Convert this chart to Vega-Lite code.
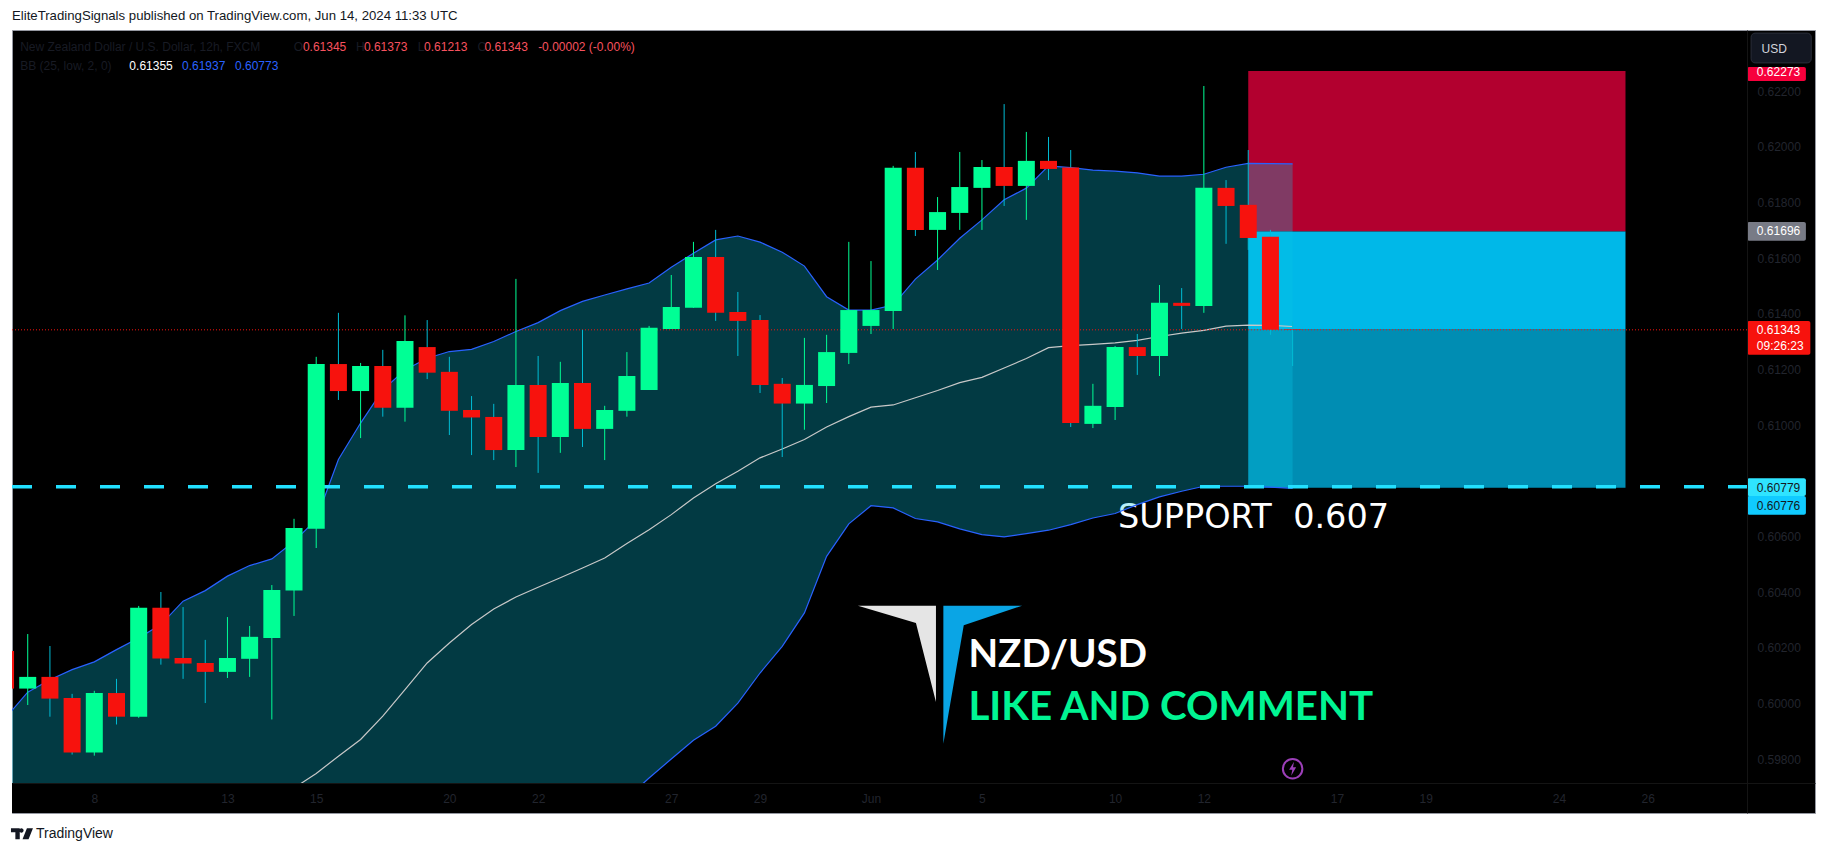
{"$schema":"https://vega.github.io/schema/vega-lite/v6.json","width":1803,"height":783,"autosize":{"type":"none"},"padding":{"left":12,"top":30,"right":11,"bottom":40},"background":"#ffffff","view":{"fill":"#000000","stroke":"#9598a1"},
"title":{"text":"EliteTradingSignals published on TradingView.com, Jun 14, 2024 11:33 UTC","anchor":"start","frame":"group","offset":7,"fontSize":13.2,"fontWeight":"normal","font":"Liberation Sans","color":"#131722"},
"datasets":{
"candles":[
{"i":0,"o":0.60189,"h":0.60195,"l":0.6004,"c":0.60054,"upper":0.59949,"mid":null,"lower":0.5866},
{"i":1,"o":0.60054,"h":0.6025,"l":0.59995,"c":0.60096,"upper":0.60041,"mid":null,"lower":0.5872},
{"i":2,"o":0.60096,"h":0.60207,"l":0.59953,"c":0.60018,"upper":0.60086,"mid":null,"lower":0.5878},
{"i":3,"o":0.6002,"h":0.60035,"l":0.59817,"c":0.59824,"upper":0.60122,"mid":null,"lower":0.5884},
{"i":4,"o":0.59824,"h":0.60046,"l":0.59813,"c":0.60038,"upper":0.6015,"mid":null,"lower":0.589},
{"i":5,"o":0.60038,"h":0.60089,"l":0.59925,"c":0.59953,"upper":0.60194,"mid":null,"lower":0.5895},
{"i":6,"o":0.59953,"h":0.60351,"l":0.59949,"c":0.60344,"upper":0.60236,"mid":null,"lower":0.59},
{"i":7,"o":0.60344,"h":0.60401,"l":0.6014,"c":0.60162,"upper":0.60284,"mid":null,"lower":0.5905},
{"i":8,"o":0.60164,"h":0.60347,"l":0.60089,"c":0.60144,"upper":0.60368,"mid":null,"lower":0.591},
{"i":9,"o":0.60146,"h":0.60229,"l":0.60002,"c":0.60114,"upper":0.60406,"mid":null,"lower":0.5915},
{"i":10,"o":0.60114,"h":0.60311,"l":0.60092,"c":0.60164,"upper":0.60458,"mid":null,"lower":0.592},
{"i":11,"o":0.60161,"h":0.60279,"l":0.60096,"c":0.6024,"upper":0.60496,"mid":null,"lower":0.5925},
{"i":12,"o":0.60236,"h":0.60426,"l":0.59943,"c":0.60408,"upper":0.6052,"mid":0.59655,"lower":0.593},
{"i":13,"o":0.60406,"h":0.60664,"l":0.60315,"c":0.60631,"upper":0.60583,"mid":0.59697,"lower":0.5935},
{"i":14,"o":0.60628,"h":0.61246,"l":0.60559,"c":0.6122,"upper":0.60661,"mid":0.59749,"lower":0.594},
{"i":15,"o":0.6122,"h":0.61404,"l":0.61091,"c":0.61123,"upper":0.60877,"mid":0.59811,"lower":0.5944},
{"i":16,"o":0.61123,"h":0.61224,"l":0.60954,"c":0.61213,"upper":0.61008,"mid":0.59871,"lower":0.5947},
{"i":17,"o":0.61213,"h":0.61271,"l":0.61031,"c":0.61063,"upper":0.61127,"mid":0.59955,"lower":0.595},
{"i":18,"o":0.61063,"h":0.61395,"l":0.61013,"c":0.61303,"upper":0.61199,"mid":0.6005,"lower":0.5952},
{"i":19,"o":0.61281,"h":0.61378,"l":0.61166,"c":0.61189,"upper":0.61241,"mid":0.60146,"lower":0.5954},
{"i":20,"o":0.61192,"h":0.61246,"l":0.60965,"c":0.61052,"upper":0.61265,"mid":0.60218,"lower":0.5955},
{"i":21,"o":0.61055,"h":0.61105,"l":0.60893,"c":0.61028,"upper":0.61273,"mid":0.60284,"lower":0.5956},
{"i":22,"o":0.6103,"h":0.61077,"l":0.60875,"c":0.60911,"upper":0.61301,"mid":0.6034,"lower":0.5957},
{"i":23,"o":0.60911,"h":0.61526,"l":0.6085,"c":0.61145,"upper":0.61337,"mid":0.60383,"lower":0.59575},
{"i":24,"o":0.61145,"h":0.61249,"l":0.60829,"c":0.60958,"upper":0.61369,"mid":0.60418,"lower":0.5958},
{"i":25,"o":0.60958,"h":0.61228,"l":0.60901,"c":0.61152,"upper":0.61412,"mid":0.60452,"lower":0.59585},
{"i":26,"o":0.61152,"h":0.61343,"l":0.60922,"c":0.60987,"upper":0.61445,"mid":0.60487,"lower":0.5959},
{"i":27,"o":0.60987,"h":0.6107,"l":0.60875,"c":0.61055,"upper":0.61468,"mid":0.60523,"lower":0.59615},
{"i":28,"o":0.61052,"h":0.61263,"l":0.61031,"c":0.61177,"upper":0.6149,"mid":0.60575,"lower":0.59661},
{"i":29,"o":0.61127,"h":0.61357,"l":0.61127,"c":0.6135,"upper":0.61511,"mid":0.60625,"lower":0.59733},
{"i":30,"o":0.61346,"h":0.6154,"l":0.61346,"c":0.61425,"upper":0.61568,"mid":0.60679,"lower":0.59801},
{"i":31,"o":0.61422,"h":0.61659,"l":0.61422,"c":0.61605,"upper":0.61618,"mid":0.60739,"lower":0.59868},
{"i":32,"o":0.61605,"h":0.61702,"l":0.61375,"c":0.61404,"upper":0.61666,"mid":0.6079,"lower":0.59919},
{"i":33,"o":0.61407,"h":0.61479,"l":0.61249,"c":0.61375,"upper":0.6168,"mid":0.60835,"lower":0.60002},
{"i":34,"o":0.61378,"h":0.61396,"l":0.61116,"c":0.61145,"upper":0.61658,"mid":0.60883,"lower":0.6011},
{"i":35,"o":0.61149,"h":0.6117,"l":0.60886,"c":0.61078,"upper":0.61622,"mid":0.60915,"lower":0.60206},
{"i":36,"o":0.61078,"h":0.61314,"l":0.60984,"c":0.61145,"upper":0.61572,"mid":0.60949,"lower":0.60326},
{"i":37,"o":0.61141,"h":0.61325,"l":0.6108,"c":0.61263,"upper":0.61462,"mid":0.60994,"lower":0.60529},
{"i":38,"o":0.6126,"h":0.61659,"l":0.6122,"c":0.61414,"upper":0.61414,"mid":0.61031,"lower":0.60646},
{"i":39,"o":0.61357,"h":0.6159,"l":0.61328,"c":0.61414,"upper":0.61414,"mid":0.61065,"lower":0.60711},
{"i":40,"o":0.61411,"h":0.61932,"l":0.61346,"c":0.61925,"upper":0.61432,"mid":0.61073,"lower":0.60703},
{"i":41,"o":0.61925,"h":0.61982,"l":0.6168,"c":0.61702,"upper":0.61525,"mid":0.61099,"lower":0.60665},
{"i":42,"o":0.61702,"h":0.6182,"l":0.61558,"c":0.61766,"upper":0.61594,"mid":0.61125,"lower":0.60653},
{"i":43,"o":0.61763,"h":0.61982,"l":0.61702,"c":0.61856,"upper":0.61672,"mid":0.61153,"lower":0.60628},
{"i":44,"o":0.61853,"h":0.61953,"l":0.61702,"c":0.61928,"upper":0.61738,"mid":0.61172,"lower":0.60607},
{"i":45,"o":0.61928,"h":0.62154,"l":0.61788,"c":0.6186,"upper":0.6181,"mid":0.61206,"lower":0.60599},
{"i":46,"o":0.6186,"h":0.62054,"l":0.61738,"c":0.6195,"upper":0.61852,"mid":0.6124,"lower":0.60611},
{"i":47,"o":0.6195,"h":0.62036,"l":0.61881,"c":0.61921,"upper":0.61932,"mid":0.61279,"lower":0.60623},
{"i":48,"o":0.61926,"h":0.61989,"l":0.60994,"c":0.61008,"upper":0.61926,"mid":0.61286,"lower":0.60643},
{"i":49,"o":0.61005,"h":0.61149,"l":0.6099,"c":0.6107,"upper":0.61917,"mid":0.61291,"lower":0.60667},
{"i":50,"o":0.61066,"h":0.61285,"l":0.61019,"c":0.61281,"upper":0.61913,"mid":0.61296,"lower":0.60683},
{"i":51,"o":0.61281,"h":0.61328,"l":0.61181,"c":0.61249,"upper":0.61907,"mid":0.61305,"lower":0.60715},
{"i":52,"o":0.61249,"h":0.61504,"l":0.61177,"c":0.6144,"upper":0.61895,"mid":0.61319,"lower":0.60743},
{"i":53,"o":0.6144,"h":0.61493,"l":0.61346,"c":0.61429,"upper":0.61895,"mid":0.61331,"lower":0.60763},
{"i":54,"o":0.61429,"h":0.62219,"l":0.61404,"c":0.61853,"upper":0.61902,"mid":0.61341,"lower":0.60781},
{"i":55,"o":0.61853,"h":0.61881,"l":0.61652,"c":0.61788,"upper":0.61927,"mid":0.61356,"lower":0.60781},
{"i":56,"o":0.61792,"h":0.61989,"l":0.6163,"c":0.61673,"upper":0.61941,"mid":0.6136,"lower":0.60781},
{"i":57,"o":0.61677,"h":0.61702,"l":0.61325,"c":0.61343,"upper":0.6194,"mid":0.61359,"lower":0.60778},
{"i":58,"o":0.61345,"h":0.61373,"l":0.61213,"c":0.61343,"upper":0.61939,"mid":0.61355,"lower":0.60773}
],
"zones":[
{"zone":"stop","start":56,"end":73,"top":0.62273,"bottom":0.61696},
{"zone":"open profit","start":56,"end":73,"top":0.61696,"bottom":0.61343},
{"zone":"remaining target","start":56,"end":73,"top":0.61343,"bottom":0.60776}
],
"tags":[
{"tag":"stop","start":78.48,"end":81.13,"top":0.62287,"bottom":0.62237},
{"tag":"entry","start":78.48,"end":81.13,"top":0.6173,"bottom":0.61663},
{"tag":"last","start":78.48,"end":81.33,"top":0.61375,"bottom":0.61253},
{"tag":"support","start":78.48,"end":81.13,"top":0.6081,"bottom":0.60746},
{"tag":"target","start":78.48,"end":81.13,"top":0.60746,"bottom":0.60679}
],
"notes":[
{"t":"New Zealand Dollar / U.S. Dollar, 12h, FXCM","x":0.66,"y":0.6236,"k":"muted"},
{"t":"O","x":12.99,"y":0.6236,"k":"muted"},
{"t":"0.61345","x":13.4,"y":0.6236,"k":"down"},
{"t":"H","x":15.79,"y":0.6236,"k":"muted"},
{"t":"0.61373","x":16.15,"y":0.6236,"k":"down"},
{"t":"L","x":18.57,"y":0.6236,"k":"muted"},
{"t":"0.61213","x":18.86,"y":0.6236,"k":"down"},
{"t":"C","x":21.27,"y":0.6236,"k":"muted"},
{"t":"0.61343","x":21.58,"y":0.6236,"k":"down"},
{"t":"-0.00002 (-0.00%)","x":24.0,"y":0.6236,"k":"down"},
{"t":"BB (25, low, 2, 0)","x":0.66,"y":0.62292,"k":"muted"},
{"t":"0.61355","x":5.58,"y":0.62292,"k":"white"},
{"t":"0.61937","x":7.95,"y":0.62292,"k":"band"},
{"t":"0.60773","x":10.34,"y":0.62292,"k":"band"},
{"t":"0.62273","x":78.92,"y":0.6227,"k":"white"},
{"t":"0.61696","x":78.92,"y":0.61698,"k":"white"},
{"t":"0.61343","x":78.92,"y":0.61341,"k":"white"},
{"t":"09:26:23","x":78.92,"y":0.61286,"k":"white"},
{"t":"0.60779","x":78.92,"y":0.60776,"k":"ink"},
{"t":"0.60776","x":78.92,"y":0.60711,"k":"ink"}
]},
"layer":[
{"data":{"name":"zones"},"mark":{"type":"rect","clip":true},"encoding":{
"x":{"field":"start","type":"quantitative","scale":{"domain":[0.291,81.54],"nice":false,"zero":false,"padding":0},"axis":{"title":null,"orient":"bottom","offset":-30,"zindex":1,"grid":false,"ticks":false,"domain":true,"domainColor":"#141414","labelColor":"#22252e","labelFontSize":12,"labelFont":"Liberation Sans","labelPadding":10,"labelOverlap":false,"labelFlush":false,"values":[4,10,14,20,24,30,34,39,44,50,54,60,64,70,74],"labelExpr":"{'4':'8','10':'13','14':'15','20':'20','24':'22','30':'27','34':'29','39':'Jun','44':'5','50':'10','54':'12','60':'17','64':'19','70':'24','74':'26'}[''+datum.value]"}},
"x2":{"field":"end"},
"y":{"field":"top","type":"quantitative","scale":{"domain":[0.59607,0.624202],"nice":false,"zero":false},"axis":{"title":null,"orient":"right","offset":-68,"zindex":1,"grid":false,"ticks":false,"domain":true,"domainColor":"#141414","labelColor":"#22252e","labelFontSize":12,"labelFont":"Liberation Sans","labelPadding":10,"labelOverlap":false,"labelFlush":false,"format":".5f","values":[0.598,0.6,0.602,0.604,0.606,0.61,0.612,0.614,0.616,0.618,0.62,0.622]}},
"y2":{"field":"bottom"},
"color":{"field":"zone","type":"nominal","legend":null,"scale":{"domain":["stop","open profit","remaining target"],"range":["#b2002f","#00b8e8","#008db3"]}}}},
{"data":{"values":[{"t":"SUPPORT\u00a0\u00a00.607","x":50.13,"y":0.60631}]},"mark":{"type":"text","align":"left","baseline":"alphabetic","font":"DejaVu Sans","fontSize":33.5,"color":"#ffffff"},"encoding":{"x":{"field":"x","type":"quantitative"},"y":{"field":"y","type":"quantitative"},"text":{"field":"t"}}},
{"data":{"name":"candles"},"mark":{"type":"area","clip":true,"color":"#07c8e7","opacity":0.29},"encoding":{"x":{"field":"i","type":"quantitative"},"y":{"field":"upper","type":"quantitative"},"y2":{"field":"lower"}}},
{"data":{"name":"candles"},"mark":{"type":"line","clip":true,"color":"#2962ff","strokeWidth":1.2},"encoding":{"x":{"field":"i","type":"quantitative"},"y":{"field":"upper","type":"quantitative"}}},
{"data":{"name":"candles"},"mark":{"type":"line","clip":true,"color":"#2962ff","strokeWidth":1.2},"encoding":{"x":{"field":"i","type":"quantitative"},"y":{"field":"lower","type":"quantitative"}}},
{"data":{"name":"candles"},"mark":{"type":"line","clip":true,"color":"#c8c8c8","strokeWidth":1.2},"encoding":{"x":{"field":"i","type":"quantitative"},"y":{"field":"mid","type":"quantitative"}}},
{"data":{"values":[{"a":0.291,"b":81.54,"top":0.597148,"bottom":0.59607}]},"mark":{"type":"rect","color":"#000000","clip":true},"encoding":{"x":{"field":"a","type":"quantitative"},"x2":{"field":"b"},"y":{"field":"top","type":"quantitative"},"y2":{"field":"bottom"}}},
{"data":{"values":[{"a":0.291,"b":78.48,"p":0.61343}]},"mark":{"type":"rule","color":"#f7120d","strokeWidth":1,"strokeDash":[1,2]},"encoding":{"x":{"field":"a","type":"quantitative"},"x2":{"field":"b"},"y":{"field":"p","type":"quantitative"}}},
{"data":{"values":[{"a":0.291,"b":78.48,"p":0.60779}]},"mark":{"type":"rule","color":"#22e0ff","strokeWidth":3.5,"strokeDash":[20,24]},"encoding":{"x":{"field":"a","type":"quantitative"},"x2":{"field":"b"},"y":{"field":"p","type":"quantitative"}}},
{"data":{"name":"candles"},"transform":[{"filter":"datum.c>=datum.o"}],"mark":{"type":"rule","clip":true,"color":"#00ff95","strokeWidth":1},"encoding":{"x":{"field":"i","type":"quantitative"},"y":{"field":"h","type":"quantitative"},"y2":{"field":"l"}}},
{"data":{"name":"candles"},"transform":[{"filter":"datum.c<datum.o"}],"mark":{"type":"rule","clip":true,"color":"#00bcd4","strokeWidth":1},"encoding":{"x":{"field":"i","type":"quantitative"},"y":{"field":"h","type":"quantitative"},"y2":{"field":"l"}}},
{"data":{"name":"candles"},"transform":[{"filter":"datum.c>=datum.o"}],"mark":{"type":"bar","clip":true,"orient":"vertical","size":17,"color":"#00ff95"},"encoding":{"x":{"field":"i","type":"quantitative"},"y":{"field":"o","type":"quantitative"},"y2":{"field":"c"}}},
{"data":{"name":"candles"},"transform":[{"filter":"datum.c<datum.o"}],"mark":{"type":"bar","clip":true,"orient":"vertical","size":17,"color":"#f7120d"},"encoding":{"x":{"field":"i","type":"quantitative"},"y":{"field":"o","type":"quantitative"},"y2":{"field":"c"}}},
{"data":{"values":[{"x":40.17,"y":0.60178}]},"mark":{"type":"point","filled":true,"opacity":1,"size":10000,"color":"#e5e5e5","shape":"M-.78,-.966L.78,-.966L.78,.96L.38,-.62Z"},"encoding":{"x":{"field":"x","type":"quantitative"},"y":{"field":"y","type":"quantitative"}}},
{"data":{"values":[{"x":44.05,"y":0.60103}]},"mark":{"type":"point","filled":true,"opacity":1,"size":10000,"color":"#0aa5e5","shape":"M-.794,-1.386L.78,-1.386L-.386,-.994L-.794,1.374Z"},"encoding":{"x":{"field":"x","type":"quantitative"},"y":{"field":"y","type":"quantitative"}}},
{"data":{"values":[{"x":58,"y":0.59766}]},"mark":{"type":"point","filled":false,"opacity":1,"size":380,"color":"#9c3fb8","strokeWidth":2},"encoding":{"x":{"field":"x","type":"quantitative"},"y":{"field":"y","type":"quantitative"}}},
{"data":{"values":[{"x":58,"y":0.59766}]},"mark":{"type":"point","filled":true,"opacity":1,"size":196,"color":"#9c3fb8","shape":"M.2,-1L-.5,.15L-.05,.15L-.2,1L.5,-.2L.05,-.2Z"},"encoding":{"x":{"field":"x","type":"quantitative"},"y":{"field":"y","type":"quantitative"}}},
{"data":{"values":[{"x":0.74,"y":0.59532}]},"mark":{"type":"point","filled":true,"opacity":1,"size":484,"color":"#131722","shape":"M-1,-.5L-.2,-.5L-.2,.5L-.6,.5L-.6,-.15L-1,-.15ZM.45,-.5L1,-.5L.6,.5L.05,.5ZM-.05,-.5A.2,.2,0,1,1,-.05,-.1A.2,.2,0,1,1,-.05,-.5Z"},"encoding":{"x":{"field":"x","type":"quantitative"},"y":{"field":"y","type":"quantitative"}}},
{"data":{"name":"tags"},"mark":{"type":"rect","cornerRadius":2},"encoding":{"x":{"field":"start","type":"quantitative"},"x2":{"field":"end"},"y":{"field":"top","type":"quantitative"},"y2":{"field":"bottom"},
"color":{"field":"tag","type":"nominal","legend":null,"scale":{"domain":["stop","entry","last","support","target"],"range":["#f7003c","#787b86","#f7120d","#2fe4ff","#10cbff"]}}}},
{"data":{"values":[{"start":78.66,"end":81.37,"top":0.62409,"bottom":0.62302}]},"mark":{"type":"rect","cornerRadius":4,"color":"#131722","stroke":"#2a2e39","strokeWidth":1},"encoding":{"x":{"field":"start","type":"quantitative"},"x2":{"field":"end"},"y":{"field":"top","type":"quantitative"},"y2":{"field":"bottom"}}},
{"data":{"values":[{"t":"USD","x":79.13,"y":0.62353}]},"mark":{"type":"text","align":"left","baseline":"middle","font":"Liberation Sans","fontSize":12,"color":"#d1d4dc"},"encoding":{"x":{"field":"x","type":"quantitative"},"y":{"field":"y","type":"quantitative"},"text":{"field":"t"}}},
{"data":{"name":"notes"},"mark":{"type":"text","align":"left","baseline":"middle","font":"Liberation Sans","fontSize":12},"encoding":{"x":{"field":"x","type":"quantitative"},"y":{"field":"y","type":"quantitative"},"text":{"field":"t"},
"color":{"field":"k","type":"nominal","legend":null,"scale":{"domain":["muted","down","white","band","ink"],"range":["#181b24","#f7525f","#ffffff","#2962ff","#131722"]}}}},
{"data":{"values":[{"t":"TradingView","x":1.37,"y":0.59532}]},"mark":{"type":"text","align":"left","baseline":"middle","font":"Liberation Sans","fontSize":14,"color":"#131722"},"encoding":{"x":{"field":"x","type":"quantitative"},"y":{"field":"y","type":"quantitative"},"text":{"field":"t"}}},
{"data":{"values":[{"t":"NZD/USD","x":43.39,"y":0.6013}]},"mark":{"type":"text","align":"left","baseline":"alphabetic","font":"Lato","fontWeight":"bold","fontSize":38.5,"color":"#ffffff"},"encoding":{"x":{"field":"x","type":"quantitative"},"y":{"field":"y","type":"quantitative"},"text":{"field":"t"}}},
{"data":{"values":[{"t":"LIKE AND COMMENT","x":43.39,"y":0.5994}]},"mark":{"type":"text","align":"left","baseline":"alphabetic","font":"Lato","fontWeight":"bold","fontSize":40.3,"color":"#00f593"},"encoding":{"x":{"field":"x","type":"quantitative"},"y":{"field":"y","type":"quantitative"},"text":{"field":"t"}}}
],
"resolve":{"scale":{"color":"independent"}}}
